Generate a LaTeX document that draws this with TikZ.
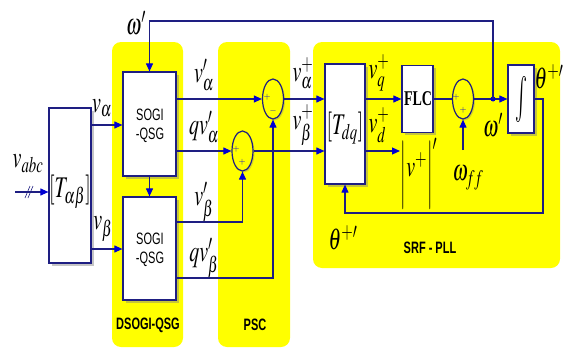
\documentclass[tikz,border=0pt]{standalone}
\usepackage{mathptmx}
\usepackage{fontspec}
\setmainfont{Liberation Serif}
\setsansfont{Liberation Sans}
\usepackage{graphicx}
\usetikzlibrary{shapes.geometric,shadows,arrows.meta,calc}
\definecolor{ylw}{RGB}{255,255,0}
\definecolor{wire}{RGB}{30,30,130}
\definecolor{tip}{RGB}{0,0,210}
\newcommand{\vs}[1]{\scalebox{1}[1.5]{#1}}
\newcommand{\tallbar}{\raisebox{-11pt}{\scalebox{1}[2.3]{$|$}}}
\begin{document}
\begin{tikzpicture}[x=1pt,y=-1pt,
  wireln/.style={draw=wire, line width=1.1pt},
  arr/.style={wireln, -{Triangle[length=8pt,width=7pt,color=tip]}},
  blk/.style={draw=wire, line width=1.2pt, fill=white, inner sep=0pt,
    drop shadow={shadow xshift=2.5pt,shadow yshift=-2.5pt,opacity=0.45}},
  sumn/.style={ellipse, draw=wire, line width=1.2pt, fill=ylw, minimum width=21pt,
    minimum height=40pt, inner sep=0pt,
    drop shadow={shadow xshift=1.5pt,shadow yshift=-1.5pt,opacity=0.35}},
  lbl/.style={inner sep=0pt, font=\fontsize{20}{22}\selectfont},
  sgn/.style={inner sep=0pt, text=tip, font=\fontsize{9}{9}\selectfont},
  grp/.style={inner sep=0pt, font=\sffamily\bfseries\fontsize{11}{12}\selectfont}
]
\fill[white] (0,0) rectangle (565,351);
\useasboundingbox (0,0) rectangle (565,351);
% group backgrounds
\fill[ylw, rounded corners=9pt] (112,42) rectangle (183,347);
\fill[ylw, rounded corners=9pt] (218,42) rectangle (290,347);
\fill[ylw, rounded corners=9pt] (313,42) rectangle (560,268);
% blocks
\node[blk, minimum width=42pt, minimum height=155pt] (tab) at (70,185.5) {};
\node[blk, minimum width=53pt, minimum height=104pt] (sg1) at (149.5,124) {};
\node[blk, minimum width=53pt, minimum height=103pt] (sg2) at (149.5,248.5) {};
\node[blk, minimum width=40pt, minimum height=120pt] (tdq) at (345,124) {};
\node[blk, minimum width=31pt, minimum height=67pt] (flc) at (417.5,99) {};
\node[blk, minimum width=26pt, minimum height=68pt] (int) at (521,99) {};
% block texts
\node[lbl] (tabt) at (70,192) {\vs{$[T_{\alpha\beta}]$}};
\node[inner sep=0pt, font=\sffamily\fontsize{11}{13}\selectfont] (sg1t) at (150,126)
  {\vs{\begin{tabular}{@{}c@{}}SOGI\\-QSG\end{tabular}}};
\node[inner sep=0pt, font=\sffamily\fontsize{11}{13}\selectfont] (sg2t) at (150,250)
  {\vs{\begin{tabular}{@{}c@{}}SOGI\\-QSG\end{tabular}}};
\node[inner sep=0pt, font=\bfseries\fontsize{14}{14}\selectfont] (flct) at (418,99) {\vs{FLC}};
\node[lbl] (tdqt) at (345,128) {\vs{$[T_{dq}]$}};
\node[lbl] (intt) at (521,99) {\scalebox{1}[2.3]{$\int$}};
% summers
\node[sumn] (s1) at (273,99) {};
\node[sumn] (s2) at (242.5,151) {};
\node[sumn] (s3) at (463,99) {};
\node[sgn] (s1a) at (267,97) {$+$};
\node[sgn] (s1b) at (273,111) {$-$};
\node[sgn] (s2a) at (236,149) {$+$};
\node[sgn] (s2b) at (242,162) {$+$};
\node[sgn] (s3a) at (456,97) {$+$};
\node[sgn] (s3b) at (463,110) {$+$};
% helper coordinates
\coordinate (yin) at (15,192);
\coordinate (ya) at (0,125);
\coordinate (yb) at (0,249);
\coordinate (ybb) at (0,222);
\coordinate (yq) at (0,278);
\coordinate (dot) at (493,99);
\coordinate (top) at (493,21);
\coordinate (fb) at (543,213);
\coordinate (vd) at (400,151);
\coordinate (wff) at (463,150);
% connectors
\draw[arr] (yin) -- (yin -| tab.west);
\draw[wire, line width=0.6pt] (25,198)--(30,186) (28,198)--(33,186);
\draw[arr] (ya -| tab.east) -- (ya -| sg1.west);
\draw[arr] (yb -| tab.east) -- (yb -| sg2.west);
\draw[arr] (sg1.south) -- (sg2.north);
\draw[arr] (s1.west -| sg1.east) -- (s1.west);
\draw[arr] (s2.west -| sg1.east) -- (s2.west);
\draw[arr] (ybb -| sg2.east) -| (s2.south);
\draw[arr] (yq -| sg2.east) -| (s1.south);
\draw[arr] (s1.east) -- (s1.east -| tdq.west);
\draw[arr] (s2.east) -- (s2.east -| tdq.west);
\draw[arr] (flc.west -| tdq.east) -- (flc.west);
\draw[arr] (vd -| tdq.east) -- (vd);
\draw[wireln] (flc.east) -- (s3.west);
\draw[arr] (s3.east) -- (int.west);
\fill[tip] (dot) circle (2.5pt);
\draw[arr] (dot) -- (top) -| (sg1.north);
\draw[arr] (wff) -- (s3.south);
\draw[arr] (int.east) -| (fb) -| (tdq.south);
% labels
\node[lbl] (lw1) at (136,23) {\vs{$\omega'$}};
\node[lbl] (lvabc) at (28,164) {\vs{$v_{abc}$}};
\node[lbl] (lva) at (102,108) {\vs{$v_\alpha$}};
\node[lbl] (lvb) at (103,229) {\vs{$v_\beta$}};
\node[lbl] (lva1) at (204,75) {\vs{$v'_\alpha$}};
\node[lbl] (lqva) at (204,127) {\vs{$qv'_\alpha$}};
\node[lbl] (lvb1) at (204,202) {\vs{$v'_\beta$}};
\node[lbl] (lqvb) at (204,258) {\vs{$qv'_\beta$}};
\node[lbl] (lvap) at (303,73) {\vs{$v^+_\alpha$}};
\node[lbl] (lvbp) at (303,125) {\vs{$v^+_\beta$}};
\node[lbl] (lvq) at (379,73) {\vs{$v^+_q$}};
\node[lbl] (lvd) at (379,125) {\vs{$v^+_d$}};
\node[lbl] (lvm) at (419,174) {\vs{$\tallbar v^{+}\tallbar'$}};
\node[lbl] (lwff) at (468,178) {\vs{$\omega_{ff}$}};
\node[lbl] (lw2) at (493,125) {\vs{$\omega'$}};
\node[lbl] (lth1) at (549,77) {\vs{$\theta^{+\prime}$}};
\node[lbl] (lth2) at (343,238) {\vs{$\theta^{+\prime}$}};
\node[grp] (gdsogi) at (148,325) {\vs{DSOGI-QSG}};
\node[grp] (gpsc) at (255,325) {\vs{PSC}};
\node[grp] (gsrf) at (430,248) {\vs{SRF - PLL}};
\end{tikzpicture}
\end{document}
